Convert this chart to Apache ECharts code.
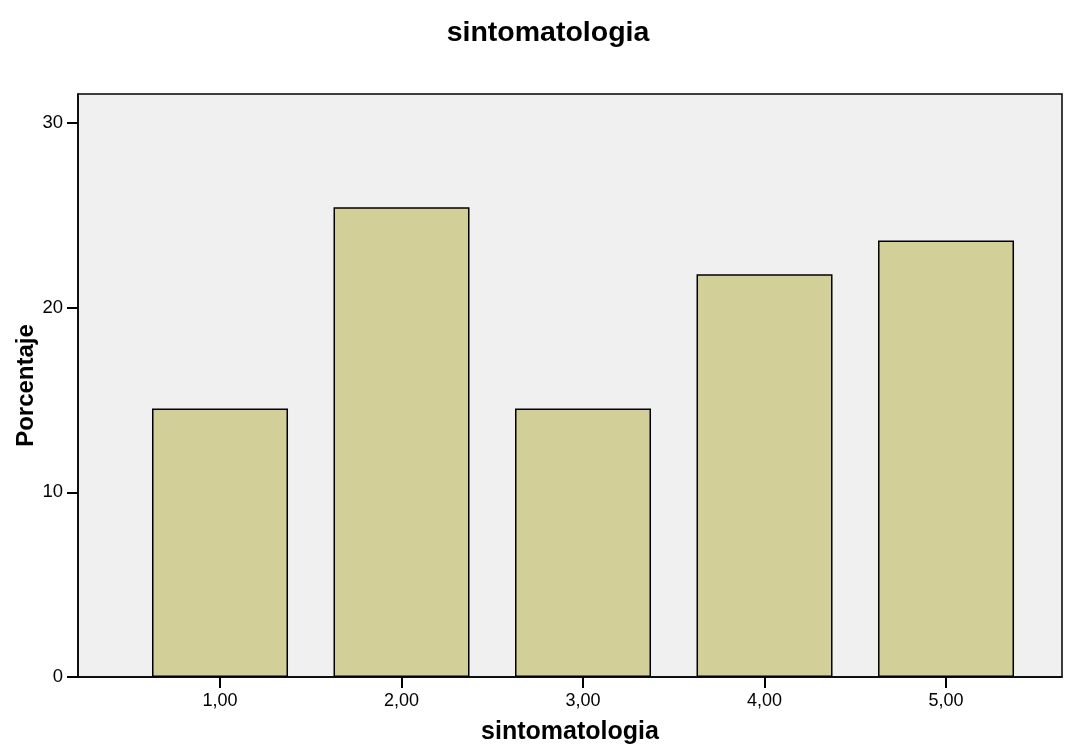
<!DOCTYPE html>
<html>
<head>
<meta charset="utf-8">
<script src="https://cdn.jsdelivr.net/npm/echarts@6/dist/echarts.min.js"></script>
<style>html,body{margin:0;padding:0;background:#fff}#c{width:1075px;height:745px}</style>
</head>
<body>
<div id="c"></div>
<script>
const categories = [1, 2, 3, 4, 5];
const categoryLabels = ['1,00', '2,00', '3,00', '4,00', '5,00'];
const percentages = [14.55, 25.45, 14.55, 21.82, 23.64];
const yTicks = [0, 10, 20, 30];

const font = '"Liberation Sans", Arial, sans-serif';
const chart = echarts.init(document.getElementById('c'), null, {renderer: 'canvas'});
chart.setOption({
  animation: false,
  backgroundColor: '#ffffff',
  title: {
    text: 'sintomatologia',
    left: 543, top: 14, textAlign: 'center',
    textStyle: {fontFamily: font, fontWeight: 'bold', fontSize: 28.5, color: '#000'}
  },
  grid: {
    left: 78, right: 13, top: 94, bottom: 68,
    containLabel: false, outerBoundsMode: 'none',
    show: true, backgroundColor: '#f0f0f0', borderColor: '#000', borderWidth: 1.5
  },
  xAxis: {
    type: 'value', min: 0.2176, max: 5.639,
    name: 'sintomatologia', nameLocation: 'middle', nameGap: 43, nameMoveOverlap: false,
    nameTextStyle: {fontFamily: font, fontWeight: 'bold', fontSize: 25, color: '#000'},
    axisLine: {show: true, lineStyle: {color: '#000', width: 1.5}},
    axisTick: {show: true, length: 11, lineStyle: {color: '#000', width: 2}, customValues: categories},
    axisLabel: {
      show: true, margin: 15, fontFamily: font, fontSize: 18, color: '#000',
      customValues: categories,
      formatter: v => categoryLabels[categories.indexOf(Math.round(v))]
    },
    splitLine: {show: false}
  },
  yAxis: {
    type: 'value', min: 0, max: 31.58,
    name: 'Porcentaje', nameLocation: 'middle', nameGap: 40, nameMoveOverlap: false,
    nameTextStyle: {fontFamily: font, fontWeight: 'bold', fontSize: 24, color: '#000'},
    axisLine: {show: true, lineStyle: {color: '#000', width: 1.5}},
    axisTick: {show: true, length: 11, lineStyle: {color: '#000', width: 2}, customValues: yTicks},
    axisLabel: {show: true, margin: 15, fontFamily: font, fontSize: 18.5, color: '#000', customValues: yTicks},
    splitLine: {show: false}
  },
  series: [{
    type: 'bar',
    barWidth: 136,
    data: categories.map((c, i) => [c, percentages[i]]),
    itemStyle: {color: '#d3cf98', borderColor: '#000', borderWidth: 1.5}
  }]
});
</script>
</body>
</html>
